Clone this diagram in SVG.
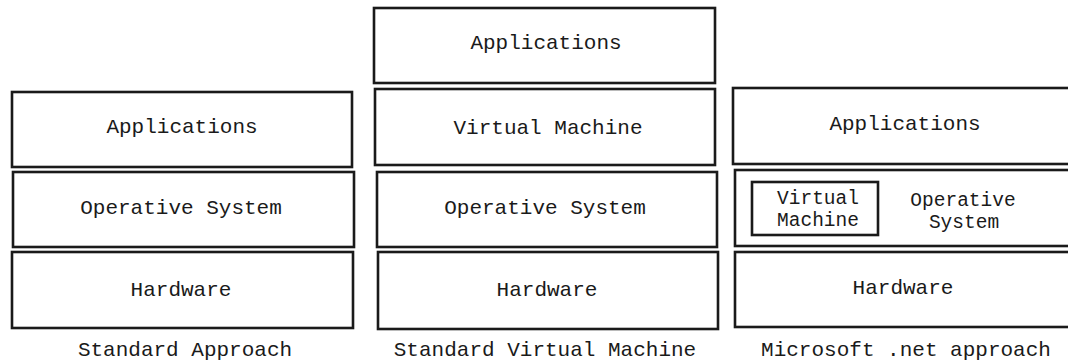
<svg xmlns="http://www.w3.org/2000/svg" width="1068" height="362" viewBox="0 0 1068 362">
  <style>
    .box { fill: #ffffff; stroke: #1a1a1a; stroke-width: 2.6; }
    .lbl { font-family: "Liberation Mono", "Courier New", monospace; font-size: 21px; fill: #1a1a1a; text-anchor: middle; }
    .lbl2 { font-size: 19.5px; }
  </style>
  <rect width="1068" height="362" fill="#ffffff"/>

  <!-- Column 1: standard approach -->
  <g id="std-apps">
    <rect class="box" x="12" y="92" width="340" height="75"/>
    <text class="lbl" x="182" y="133">Applications</text>
  </g>
  <g id="std-os">
    <rect class="box" x="13" y="172" width="341" height="75"/>
    <text class="lbl" x="181" y="214">Operative System</text>
  </g>
  <g id="std-hw">
    <rect class="box" x="12" y="252" width="341" height="76"/>
    <text class="lbl" x="181" y="296">Hardware</text>
  </g>
  <text class="lbl" x="185" y="356">Standard Approach</text>

  <!-- Column 2: standard virtual machine -->
  <g id="svm-apps">
    <rect class="box" x="374" y="8" width="341" height="75"/>
    <text class="lbl" x="546" y="49">Applications</text>
  </g>
  <g id="svm-vm">
    <rect class="box" x="375" y="89" width="340" height="76"/>
    <text class="lbl" x="548" y="134">Virtual Machine</text>
  </g>
  <g id="svm-os">
    <rect class="box" x="377" y="172" width="340" height="75"/>
    <text class="lbl" x="545" y="214">Operative System</text>
  </g>
  <g id="svm-hw">
    <rect class="box" x="378" y="252" width="340" height="77"/>
    <text class="lbl" x="547" y="296">Hardware</text>
  </g>
  <text class="lbl" x="545" y="356">Standard Virtual Machine</text>

  <!-- Column 3: .net approach (boxes run past the right edge) -->
  <g id="net-apps">
    <rect class="box" x="733" y="88" width="345" height="76"/>
    <text class="lbl" x="905" y="130">Applications</text>
  </g>
  <g id="net-os">
    <rect class="box" x="735" y="170" width="343" height="76"/>
    <text class="lbl lbl2" x="963" y="206">Operative</text>
    <text class="lbl lbl2" x="964" y="228">System</text>
  </g>
  <g id="net-vm">
    <rect class="box" x="752" y="182" width="126" height="53"/>
    <text class="lbl lbl2" x="818" y="204">Virtual</text>
    <text class="lbl lbl2" x="818" y="226">Machine</text>
  </g>
  <g id="net-hw">
    <rect class="box" x="735" y="252" width="343" height="75"/>
    <text class="lbl" x="903" y="294">Hardware</text>
  </g>
  <text class="lbl" x="906" y="356">Microsoft .net approach</text>

  <!-- no connectors in this layered diagram -->
  <g id="connectors"/>
</svg>
